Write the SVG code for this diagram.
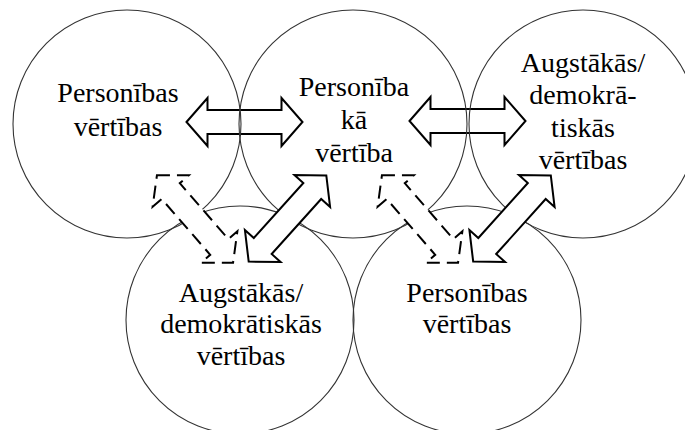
<svg xmlns="http://www.w3.org/2000/svg" xmlns:xlink="http://www.w3.org/1999/xlink" width="685" height="430" viewBox="0 0 685 430">
  <style>
    .ring { fill: none; stroke: #333; stroke-width: 1.1; }
    .arrow { fill: #fff; stroke: #000; stroke-width: 2; stroke-linejoin: miter; }
    .dashed { stroke-dasharray: 13 7; }
    .label { font-family: "Liberation Serif", "Times New Roman", serif; font-size: 28px; text-anchor: middle; fill: #000; }
  </style>
  <defs>
    <!-- double-headed block arrow, 116 long, centred on the origin -->
    <path id="dbl" d="M -58 0 L -37 -24 L -37 -12 L 37 -12 L 37 -24 L 58 0 L 37 24 L 37 12 L -37 12 L -37 24 Z"/>
  </defs>
  <rect width="685" height="430" fill="#fff"/>

  <!-- horizontal links sit beneath the ring outlines -->
  <g id="links-horizontal">
    <use xlink:href="#dbl" class="arrow" transform="translate(244.5 122)"/>
    <use xlink:href="#dbl" class="arrow" transform="translate(467.5 121)"/>
  </g>

  <g id="node-personibas-top">
    <circle class="ring" cx="127" cy="124" r="114"/>
    <text class="label" x="118" y="102">Personības</text>
    <text class="label" x="118" y="136">vērtības</text>
  </g>
  <g id="node-personiba-ka-vertiba">
    <circle class="ring" cx="353" cy="124" r="114"/>
    <text class="label" x="354" y="96">Personība</text>
    <text class="label" x="354" y="129">kā</text>
    <text class="label" x="354" y="162">vērtība</text>
  </g>
  <g id="node-augstakas-top">
    <circle class="ring" cx="583" cy="124" r="114"/>
    <text class="label" x="583" y="72">Augstākās/</text>
    <text class="label" x="583" y="104">demokrā-</text>
    <text class="label" x="583" y="137">tiskās</text>
    <text class="label" x="583" y="169">vērtības</text>
  </g>
  <g id="node-augstakas-bottom">
    <circle class="ring" cx="240" cy="320" r="114"/>
    <text class="label" x="241" y="302">Augstākās/</text>
    <text class="label" x="241" y="333">demokrātiskās</text>
    <text class="label" x="241" y="365">vērtības</text>
  </g>
  <g id="node-personibas-bottom">
    <circle class="ring" cx="467" cy="320" r="114"/>
    <text class="label" x="467" y="302">Personības</text>
    <text class="label" x="467" y="333">vērtības</text>
  </g>

  <!-- diagonal links cover the ring outlines -->
  <g id="links-diagonal">
    <use xlink:href="#dbl" class="arrow dashed" transform="translate(195 219) rotate(49)"/>
    <use xlink:href="#dbl" class="arrow" transform="translate(287.5 218.5) rotate(-48)"/>
    <use xlink:href="#dbl" class="arrow dashed" transform="translate(420 219) rotate(49)"/>
    <use xlink:href="#dbl" class="arrow" transform="translate(512 218.5) rotate(-48)"/>
  </g>
</svg>
